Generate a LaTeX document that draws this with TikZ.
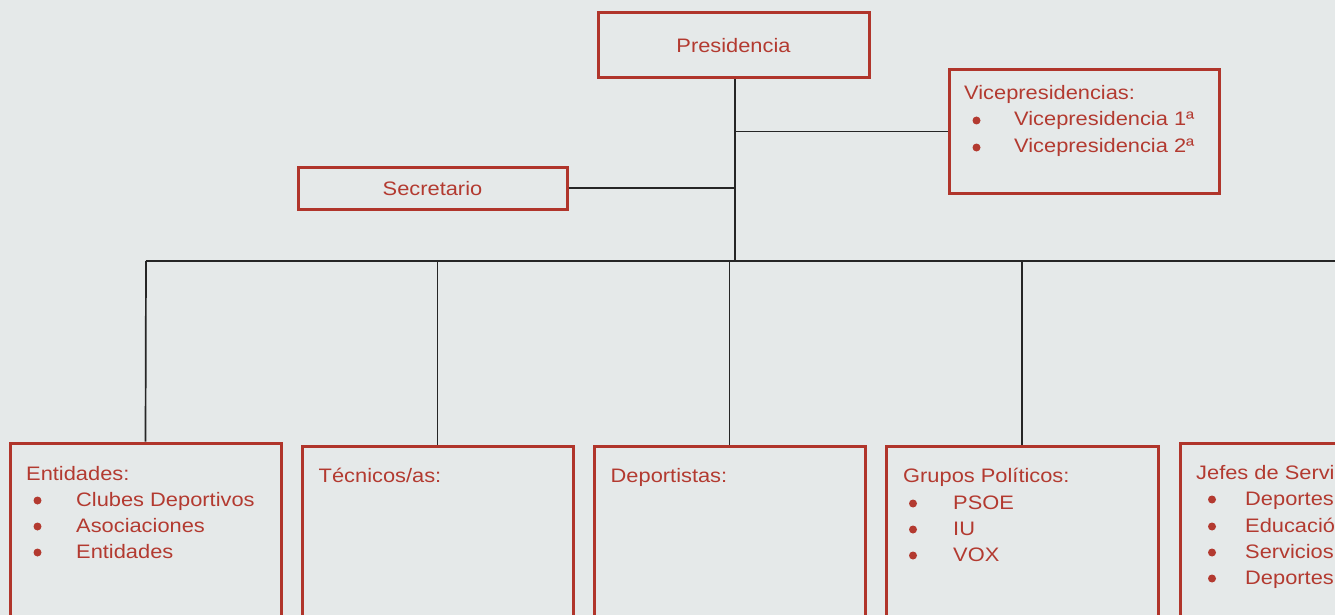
\documentclass[tikz,border=0pt]{standalone}
\usepackage{fontspec}
\setmainfont[FakeStretch=1.12]{Liberation Sans}
\definecolor{bg}{HTML}{E5E9E9}
\definecolor{boxred}{HTML}{B0352B}
\definecolor{txtred}{HTML}{B33A30}
\begin{document}
\begin{tikzpicture}[x=1pt,y=-1pt,
  box/.style={draw=boxred, line width=3pt, rectangle, inner sep=0pt},
  lbl/.style={text=txtred, inner sep=0pt, font=\fontsize{19.5}{23}\selectfont},
  conn/.style={draw=black!85, line width=1.7pt},
  bul/.style={fill=txtred}]
\useasboundingbox (0,0) rectangle (1335,615);
\fill[bg] (0,0) rectangle (1335,615);
\clip (0,0) rectangle (1335,615);

% top boxes
\node[box, minimum width=271, minimum height=65] (pres) at (733.5,45.5) {};
\node[lbl, anchor=base] (prest) at (733.5,53) {Presidencia};
\node[box, minimum width=270, minimum height=123] (vice) at (1084,131.5) {};
\node[lbl, anchor=base west] (vicet) at (964,100) {Vicepresidencias:};
\fill[bul] (976.5,120.5) circle (4);
\node[lbl, anchor=base west] (v1) at (1014,126) {Vicepresidencia 1ª};
\fill[bul] (976.5,147.5) circle (4);
\node[lbl, anchor=base west] (v2) at (1014,153) {Vicepresidencia 2ª};
\node[box, minimum width=269, minimum height=42] (sec) at (432.5,188) {};
\node[lbl, anchor=base] (sect) at (432.5,195) {Secretario};

% bottom boxes
\node[box, minimum width=271, minimum height=220] (ent) at (145.5,553) {};
\node[lbl, anchor=base west] (entt) at (26,480) {Entidades:};
\fill[bul] (37.5,500.5) circle (4);
\node[lbl, anchor=base west] (e1) at (76,506) {Clubes Deportivos};
\fill[bul] (37.5,526.5) circle (4);
\node[lbl, anchor=base west] (e2) at (76,532) {Asociaciones};
\fill[bul] (37.5,552.5) circle (4);
\node[lbl, anchor=base west] (e3) at (76,558) {Entidades};

\node[box, minimum width=271, minimum height=220] (tec) at (437.5,556) {};
\node[lbl, anchor=base west] (tect) at (318.5,482) {Técnicos/as:};

\node[box, minimum width=271, minimum height=220] (dep) at (729.5,556) {};
\node[lbl, anchor=base west] (dept) at (610.5,482) {Deportistas:};

\node[box, minimum width=272, minimum height=220] (grp) at (1022,556) {};
\node[lbl, anchor=base west] (grpt) at (903,482) {Grupos Políticos:};
\fill[bul] (913,503.5) circle (4);
\node[lbl, anchor=base west] (g1) at (953,509) {PSOE};
\fill[bul] (913,529.5) circle (4);
\node[lbl, anchor=base west] (g2) at (953,535) {IU};
\fill[bul] (913,555.5) circle (4);
\node[lbl, anchor=base west] (g3) at (953,561) {VOX};

\node[box, minimum width=271, minimum height=220] (jef) at (1315.5,553) {};
\node[lbl, anchor=base west] (jeft) at (1196,479) {Jefes de Servicio:};
\fill[bul] (1212,499.5) circle (4);
\node[lbl, anchor=base west] (j1) at (1245,505) {Deportes};
\fill[bul] (1212,526.5) circle (4);
\node[lbl, anchor=base west] (j2) at (1245,532) {Educación};
\fill[bul] (1212,552.5) circle (4);
\node[lbl, anchor=base west] (j3) at (1245,558) {Servicios};
\fill[bul] (1212,578.5) circle (4);
\node[lbl, anchor=base west] (j4) at (1245,584) {Deportes};

% connectors
\coordinate (t) at (735,261);
\coordinate (busL) at (146,261);
\coordinate (busR) at (1340,261);
\draw[conn] (pres.south -| t) -- (t);
\draw[conn] (vice.west) -- (vice.west -| t);
\draw[conn] (sec.east) -- (sec.east -| t);
\draw[conn] (busL) -- (busR);
\draw[conn, line width=2.8pt] (tec.north |- t) -- (grp.north |- t);
\draw[conn] (busL) -- (ent.north);
\draw[conn] (tec.north |- t) -- (tec.north);
\draw[conn] (dep.north |- t) -- (dep.north);
\draw[conn] (grp.north |- t) -- (grp.north);
\end{tikzpicture}
\end{document}
